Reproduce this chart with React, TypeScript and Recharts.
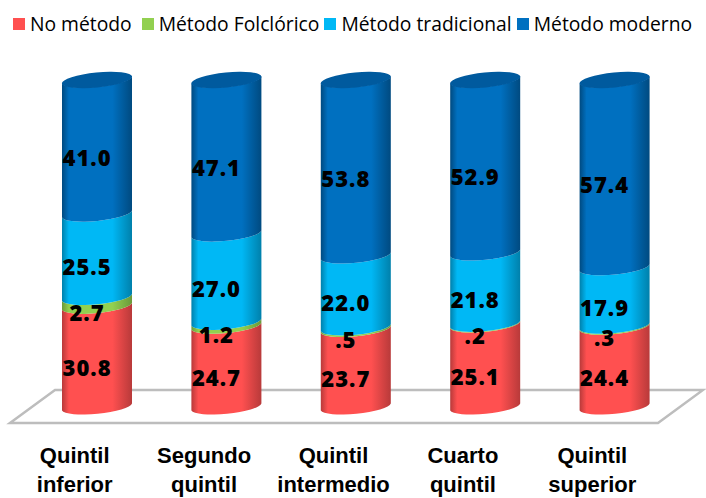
import { BarChart, Bar, XAxis, YAxis, LabelList, Legend, Customized } from 'recharts'

const categories = ['Quintil inferior', 'Segundo quintil', 'Quintil intermedio', 'Cuarto quintil', 'Quintil superior']
const noMetodo = [30.8, 24.7, 23.7, 25.1, 24.4]
const folclorico = [2.7, 1.2, 0.5, 0.2, 0.3]
const tradicional = [25.5, 27.0, 22.0, 21.8, 17.9]
const moderno = [41.0, 47.1, 53.8, 52.9, 57.4]

const data = categories.map((name, i) => ({
  name,
  noMetodo: noMetodo[i],
  folclorico: folclorico[i],
  tradicional: tradicional[i],
  moderno: moderno[i],
}))

const series = [
  { key: 'noMetodo', label: 'No método', color: '#ff5050', dark: '#b83a3a' },
  { key: 'folclorico', label: 'Método Folclórico', color: '#92d050', dark: '#6a9a3a' },
  { key: 'tradicional', label: 'Método tradicional', color: '#00b8f5', dark: '#0080ab' },
  { key: 'moderno', label: 'Método moderno', color: '#0070c0', dark: '#004a80' },
]

const SKEW = 3.5
const RY = 7.5

function fmtValue(v: number) {
  return v < 1 ? String(v).replace('0.', '.') : v.toFixed(1)
}

function cylinder(gradient: string, cap?: string) {
  return (props: any) => {
    const { x, y, width, height } = props
    const rx = width / 2 + 0.3
    const xr = x + width
    const yb = y + height
    const arc = `${rx} ${RY} -5.7 0`
    const d = `M${x},${y + SKEW} A${arc} 0 ${xr},${y - SKEW} L${xr},${yb - SKEW} A${arc} 1 ${x},${yb + SKEW} Z`
    return (
      <g>
        <path d={d} fill={`url(#${gradient})`} />
        {cap && (
          <ellipse
            cx={x + width / 2}
            cy={y}
            rx={rx}
            ry={RY}
            fill={cap}
            transform={`rotate(-5.7 ${x + width / 2} ${y})`}
          />
        )}
      </g>
    )
  }
}

function ValueLabel(props: any) {
  const { x, y, width, height, value } = props
  return (
    <text
      x={x + width / 2 - 10}
      y={y + height / 2 + 10}
      textAnchor="middle"
      dominantBaseline="central"
      fontFamily="Open Sans"
      fontWeight={800}
      fontSize={22}
      letterSpacing={1}
      fill="#000"
    >
      {fmtValue(value)}
    </text>
  )
}

function CategoryTick(props: any) {
  const { x, payload } = props
  const words = String(payload.value).split(' ')
  return (
    <text x={x - 22} textAnchor="middle" fontFamily="Liberation Sans" fontWeight={700} fontSize={22} fill="#000">
      {words.map((w, i) => (
        <tspan key={w} x={x - 22} y={463 + i * 29}>{w}</tspan>
      ))}
    </text>
  )
}

function Floor() {
  return (
    <polygon
      points="10,423 55,390 703,390 658,423"
      fill="#fff"
      stroke="#bdbdbd"
      strokeWidth={2.5}
    />
  )
}

function LegendRow() {
  return (
    <div style={{ display: 'flex', alignItems: 'center', fontFamily: 'Open Sans', fontSize: 19.3, color: '#000', whiteSpace: 'nowrap' }}>
      {series.map((s, i) => (
        <div key={s.key} style={{ display: 'flex', alignItems: 'center', marginRight: i === 0 ? 10 : 5 }}>
          <span style={{ width: 12, height: 12, background: s.color, marginRight: 5, display: 'inline-block' }} />
          {s.label}
        </div>
      ))}
    </div>
  )
}

export default function App() {
  return (
    <div style={{ position: 'absolute', left: 0, top: 0 }}>
      <BarChart
        width={706}
        height={498}
        data={data}
        barCategoryGap={0}
        margin={{ top: 53, right: 27, bottom: 0, left: 32 }}
      >
        <defs>
          {series.map((s) => (
            <linearGradient key={s.key} id={`grad-${s.key}`} x1="0" y1="0" x2="1" y2="0">
              <stop offset="0%" stopColor={s.dark} />
              <stop offset="10%" stopColor={s.color} />
              <stop offset="72%" stopColor={s.color} />
              <stop offset="100%" stopColor={s.dark} />
            </linearGradient>
          ))}
        </defs>
        <Customized component={Floor} />
        <XAxis
          dataKey="name"
          axisLine={false}
          tickLine={false}
          height={91}
          interval={0}
          tick={<CategoryTick />}
        />
        <YAxis hide domain={[0, 100]} />
        <Legend
          verticalAlign="top"
          content={<LegendRow />}
          wrapperStyle={{ position: 'absolute', left: 13, top: 10, width: 700 }}
        />
        {series.map((s) => (
          <Bar
            key={s.key}
            dataKey={s.key}
            stackId="a"
            barSize={70}
            isAnimationActive={false}
            shape={cylinder(`grad-${s.key}`, s.key === 'moderno' ? '#005a9e' : undefined)}
          >
            <LabelList dataKey={s.key} content={<ValueLabel />} />
          </Bar>
        ))}
      </BarChart>
    </div>
  )
}
